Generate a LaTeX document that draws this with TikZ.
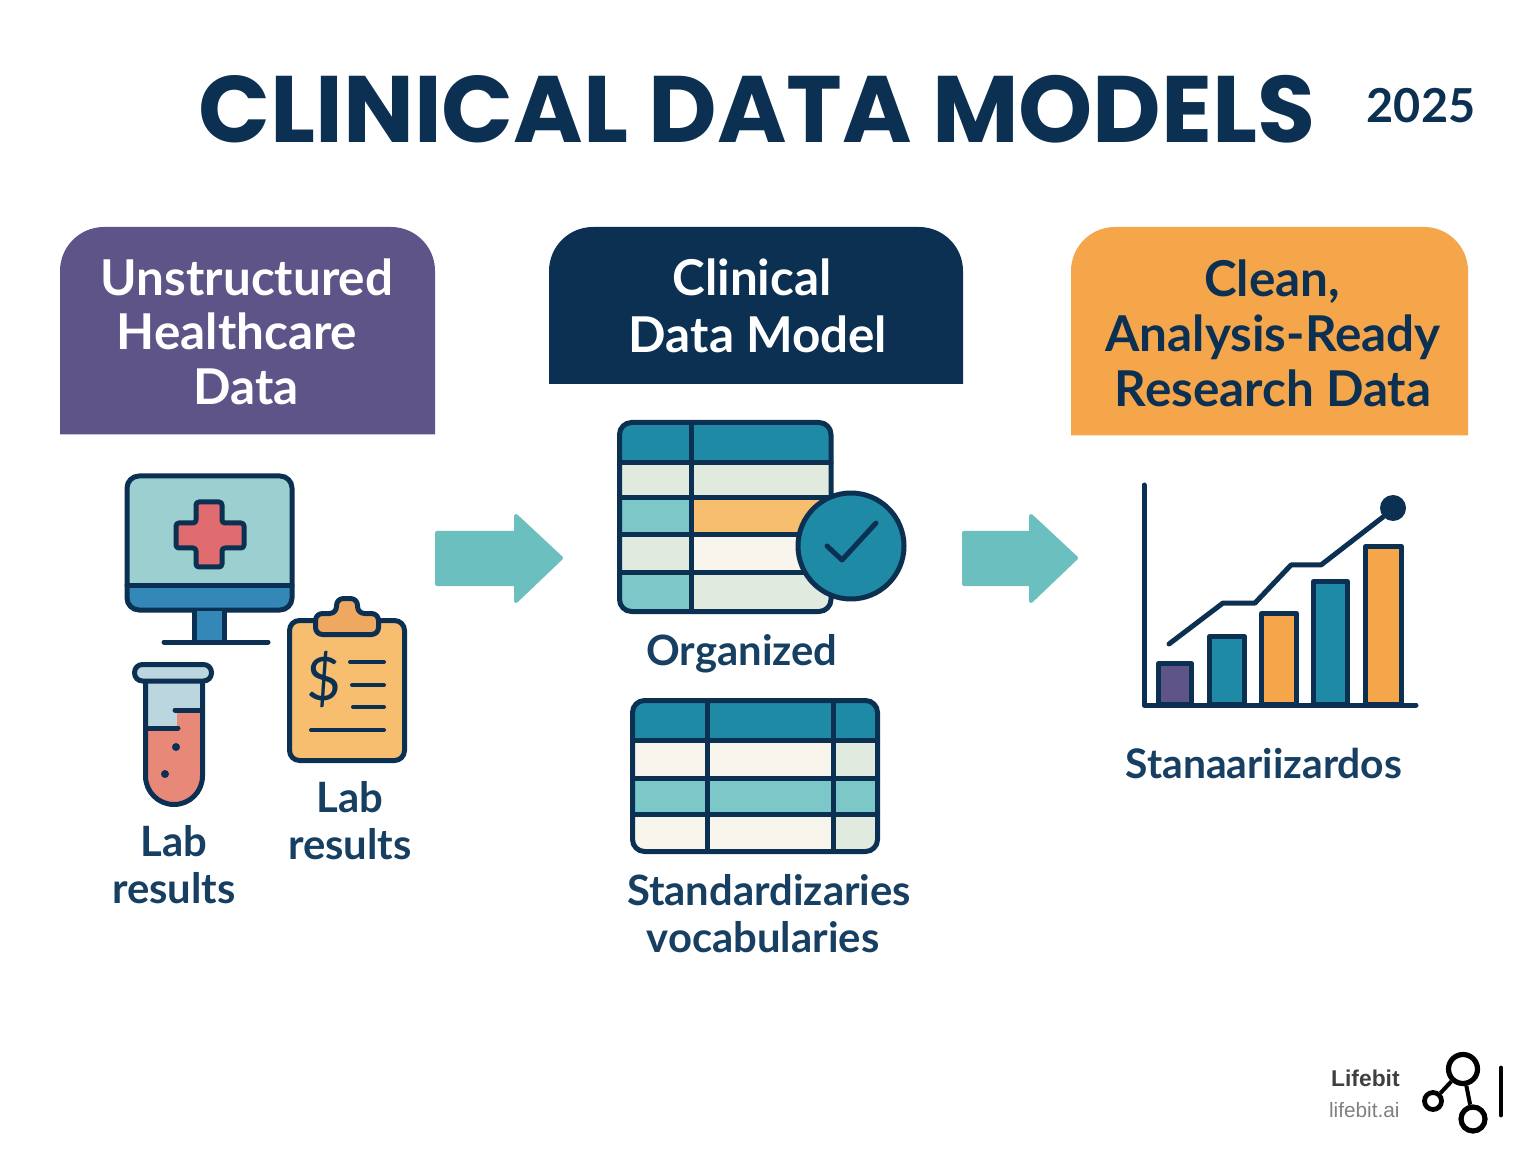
\documentclass[tikz,border=0pt]{standalone}
\usepackage{fontspec}
\setmainfont{Lato}
\newfontfamily\titlefont{Poppins}
\newfontfamily\logofont{Liberation Sans}
\usetikzlibrary{positioning}
\definecolor{navy}{HTML}{0B3052}
\definecolor{labelnavy}{HTML}{173F62}
\definecolor{purplebox}{HTML}{5E5488}
\definecolor{orangebox}{HTML}{F5A54A}
\definecolor{tealarrow}{HTML}{6CBFBF}
\definecolor{tealhead}{HTML}{1F8AA5}
\definecolor{tealrow}{HTML}{7CC8C8}
\definecolor{sage}{HTML}{E0EADF}
\definecolor{cream}{HTML}{F8F5EC}
\definecolor{screenteal}{HTML}{9CD0D0}
\definecolor{screenblue}{HTML}{3488B8}
\definecolor{crossred}{HTML}{E06C70}
\definecolor{liquid}{HTML}{E88878}
\definecolor{glass}{HTML}{BBD6DF}
\definecolor{paper}{HTML}{F8BE70}
\definecolor{clip}{HTML}{EFA860}
\tikzset{
	headline/.style={anchor=base,inner sep=0pt,font=\bfseries\fontsize{24.7}{28}\selectfont},
	label/.style={anchor=base,inner sep=0pt,font=\bfseries\fontsize{20.9}{24}\selectfont,text=labelnavy},
	outline/.style={draw=navy,line width=2.5pt,line join=round,line cap=round},
	flow/.style={fill=tealarrow,draw=tealarrow,line width=2pt,line join=round},
	logoring/.style={circle,draw=black,inner sep=0pt},
}
\begin{document}
\begin{tikzpicture}[x=0.5pt,y=-0.5pt]
	\useasboundingbox[fill=white] (0,0) rectangle (1536,1154);
	% title
	\node[anchor=base,inner sep=0pt,text=navy,font=\titlefont\bfseries\fontsize{47.2}{56}\selectfont] (title) at (757,143) {CLINICAL DATA MODELS};
	\node[anchor=base,inner sep=0pt,text=navy,font=\bfseries\fontsize{23.4}{28}\selectfont] (year) at (1421,123) {2025};
	% header boxes
	\fill[purplebox] (60,434.5) [rounded corners=22pt]--(60,227)--(435,227)[sharp corners]--(435,434.5)--cycle;
	\fill[navy] (549,384) [rounded corners=22pt]--(549,227)--(963,227)[sharp corners]--(963,384)--cycle;
	\fill[orangebox] (1071,435.5) [rounded corners=22pt]--(1071,227)--(1468,227)[sharp corners]--(1468,435.5)--cycle;
	\node[headline,text=white] (unstructured) at (247,296) {Unstructured};
	\node[headline,text=white] (healthcare) at (237,350) {Healthcare};
	\node[headline,text=white] (rawdata) at (246,405) {Data};
	\node[headline,text=white] (clinical) at (752,296) {Clinical};
	\node[headline,text=white] (datamodel) at (758,353) {Data Model};
	\node[headline,text=navy] (clean) at (1272,297) {Clean,};
	\node[headline,text=navy] (ready) at (1273,352) {Analysis-Ready};
	\node[headline,text=navy] (research) at (1273,407) {Research Data};
	% arrows
	\draw[flow] (437,533)--(516,533)--(516,516)--(561,558)--(516,601)--(516,584)--(437,584)--cycle;
	\draw[flow] (964,533)--(1031,533)--(1031,516)--(1076,558)--(1031,601)--(1031,584)--(964,584)--cycle;
	% monitor
	\fill[screenteal,rounded corners=6pt] (127,476) rectangle (292,610);
	\fill[screenblue,rounded corners=6pt] (127,575) rectangle (292,610);
	\fill[screenteal] (127,570) rectangle (292,585);
	\draw[outline,rounded corners=6pt] (127,476) rectangle (292,610);
	\draw[outline] (127,585)--(292,585);
	\fill[screenblue] (194,611) rectangle (224,640);
	\draw[outline] (194,611)--(194,640);
	\draw[outline] (224,611)--(224,640);
	\draw[outline] (164,642)--(268,642);
	\draw[outline,fill=crossred,rounded corners=1.5pt] (196,502)--(222,502)--(222,523)--(244,523)--(244,548)--(222,548)--(222,567)--(196,567)--(196,548)--(176,548)--(176,523)--(196,523)--cycle;
	% tube
	\fill[glass] (145,680) rectangle (203,735);
	\fill[liquid] (146,728)--(177,728)--(177,710)--(202,710)--(202,776) arc[start angle=0,end angle=180,radius=28]--cycle;
	\draw[outline] (145.5,682)--(145.5,776) arc[start angle=180,end angle=0,radius=28.5]--(202.5,682);
	\draw[outline,fill=glass,rounded corners=4pt] (134.5,664.5) rectangle (211.5,681);
	\draw[outline] (148,728)--(178,728);
	\draw[outline] (175,710)--(200,710);
	\fill[navy] (176,747) circle[radius=4];
	\fill[navy] (165,774) circle[radius=4];
	% clipboard
	\draw[outline,fill=paper,rounded corners=5pt] (289.5,620.5) rectangle (404.5,760.5);
	\draw[outline,fill=clip,rounded corners=3.5pt] (315.5,613.5)--(336.5,613.5)--(336.5,598.5)--(357.5,598.5)--(357.5,613.5)--(378.5,613.5)--(378.5,634.5)--(315.5,634.5)--cycle;
	\node[text=navy,font=\fontsize{30}{34}\selectfont] (dollar) at (324,679) {\$};
	\draw[outline,line width=2pt] (350,662)--(384,662);
	\draw[outline,line width=2pt] (352,685)--(384,685);
	\draw[outline,line width=2pt] (353,707)--(384,707);
	\draw[outline,line width=2pt] (311,730)--(384,730);
	% left labels
	\node[label] (labone) at (174,856) {Lab};
	\node[label] (resultsone) at (174,903) {results};
	\node[label] (labtwo) at (350,812) {Lab};
	\node[label] (resultstwo) at (350,859) {results};
	% first table
	\begin{scope}
		\clip[rounded corners=6pt] (619.5,422.5) rectangle (831,611.5);
		\fill[tealhead] (619,422) rectangle (832,463);
		\fill[sage] (619,463) rectangle (832,498);
		\fill[tealrow] (619,498) rectangle (691,535);
		\fill[paper] (691,498) rectangle (832,535);
		\fill[sage] (619,535) rectangle (691,573);
		\fill[cream] (691,535) rectangle (832,573);
		\fill[tealrow] (619,573) rectangle (691,612);
		\fill[sage] (691,573) rectangle (832,612);
	\end{scope}
	\draw[outline,rounded corners=6pt] (619.5,422.5) rectangle (831,611.5);
	\draw[outline] (619.5,463)--(831,463);
	\draw[outline] (619.5,498)--(831,498);
	\draw[outline] (619.5,535)--(831,535);
	\draw[outline] (619.5,573)--(831,573);
	\draw[outline] (691,422.5)--(691,611.5);
	\draw[outline,fill=tealhead] (851,546) circle[radius=53];
	\draw[outline] (827,546)--(842,560)--(876,523);
	\node[label] (organized) at (742,665) {Organized};
	% second table
	\begin{scope}
		\clip[rounded corners=6pt] (632.5,700.5) rectangle (877.5,851.5);
		\fill[tealhead] (632,700) rectangle (878,740);
		\fill[cream] (632,740) rectangle (833,778);
		\fill[sage] (833,740) rectangle (878,778);
		\fill[tealrow] (632,778) rectangle (878,814);
		\fill[cream] (632,814) rectangle (833,852);
		\fill[sage] (833,814) rectangle (878,852);
	\end{scope}
	\draw[outline,rounded corners=6pt] (632.5,700.5) rectangle (877.5,851.5);
	\draw[outline] (632.5,740)--(877.5,740);
	\draw[outline] (632.5,778)--(877.5,778);
	\draw[outline] (632.5,814)--(877.5,814);
	\draw[outline] (707,700.5)--(707,851.5);
	\draw[outline] (833,700.5)--(833,851.5);
	\node[label] (standardizaries) at (769,905) {Standardizaries};
	\node[label] (vocabularies) at (763,952) {vocabularies};
	% chart
	\draw[outline,fill=purplebox] (1158.5,663.5) rectangle (1191.5,704);
	\draw[outline,fill=tealhead] (1209.5,636.5) rectangle (1244.5,704);
	\draw[outline,fill=orangebox] (1261.5,613.5) rectangle (1296.5,704);
	\draw[outline,fill=tealhead] (1313.5,581.5) rectangle (1347.5,704);
	\draw[outline,fill=orangebox] (1365.5,546.5) rectangle (1401.5,704);
	\draw[outline] (1144,485)--(1144,705)--(1416,705);
	\draw[outline] (1169,644)--(1223,603)--(1255,603)--(1291,565)--(1321,565)--(1383,517);
	\fill[navy] (1393,508) circle[radius=13];
	\node[label,font=\bfseries\fontsize{20.4}{24}\selectfont] (stanaa) at (1264,778) {Stanaariizardos};
	% logo
	\node[anchor=base east,inner sep=0pt,text=black!75,font=\logofont\bfseries\fontsize{11.4}{14}\selectfont] (lifebit) at (1400,1086) {Lifebit};
	\node[anchor=base east,inner sep=0pt,text=black!50,font=\logofont\fontsize{10.4}{13}\selectfont] (lifebitai) at (1400,1117) {lifebit.ai};
	\node[logoring,line width=2.6pt,minimum size=14.5pt] (hub) at (1463,1069) {};
	\node[logoring,line width=2.4pt,minimum size=8.5pt] (leafa) at (1433,1101) {};
	\node[logoring,line width=2.6pt,minimum size=12pt] (leafb) at (1473,1119) {};
	\draw[line width=2pt] (hub)--(leafa);
	\draw[line width=2pt] (hub)--(leafb);
	\draw[line width=2.4pt,line cap=round] (1501,1068)--(1501,1115);
\end{tikzpicture}
\end{document}
